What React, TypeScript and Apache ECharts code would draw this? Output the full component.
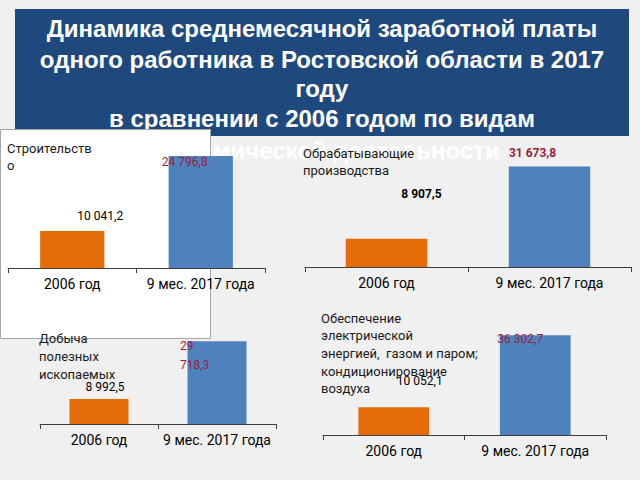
import React, { useEffect, useRef } from "react";
import * as echarts from "echarts";

const categories = ["2006 год", "9 мес. 2017 года"];
const construction = [10041.2, 24796.8];
const manufacturing = [8907.5, 31673.8];
const mining = [8992.5, 29718.3];
const energy = [10052.1, 36302.7];

const titleLines = [
  "Динамика среднемесячной заработной платы",
  "одного работника в Ростовской области в 2017",
  "году",
  "в сравнении с 2006 годом по видам",
  "экономической деятельности",
];
const panelTitles = [
  ["Строительств", "о"],
  ["Обрабатывающие", "производства"],
  ["Добыча", "полезных", "ископаемых"],
  ["Обеспечение", "электрической", "энергией,  газом и паром;", "кондиционирование", "воздуха"],
];

const ORANGE = "#e46c0a";
const BLUE = "#4f81bd";
const RED = "#9b1f3c";
const FONT = "Roboto";

const fmt = (v: number) => {
  const [i, d] = v.toFixed(1).split(".");
  return i.replace(/\B(?=(\d{3})+(?!\d))/g, " ") + "," + d;
};

export default function App() {
  const ref = useRef<HTMLDivElement>(null);
  useEffect(() => {
    if (!ref.current) return;
    const chart = echarts.init(ref.current, null, { renderer: "svg" });

    const grids = [
      { left: 8, right: 375, top: 150, bottom: 212 },
      { left: 305, right: 9, top: 156, bottom: 213 },
      { left: 40, right: 364, top: 332, bottom: 56 },
      { left: 323, right: 34, top: 325, bottom: 45 },
    ];
    const yRanges = [
      { min: 2760, max: 26000 },
      { min: 0, max: 35000 },
      { min: 0, max: 33000 },
      { min: 0, max: 40000 },
    ];
    const datasets = [construction, manufacturing, mining, energy];
    type L = { offset: number[]; color: string; bold?: boolean; align?: string; lineHeight?: number; text?: (v: number) => string };
    const labels: L[][] = [
      [
        { offset: [28, -3], color: "#000" },
        { offset: [-16, 18], color: RED },
      ],
      [
        { offset: [35, -33], color: "#000", bold: true },
        { offset: [-17, -2], color: RED, bold: true },
      ],
      [
        { offset: [6, 0], color: "#000" },
        {
          offset: [-37, 38],
          color: RED,
          align: "left",
          lineHeight: 19,
          text: (v: number) => {
            const s = fmt(v);
            const parts = s.split(" ");
            return parts[0] + "\n" + parts.slice(1).join(" ");
          },
        },
      ],
      [
        { offset: [26, -14], color: "#000" },
        { offset: [-15, 16], color: RED },
      ],
    ];

    const graphic: any[] = [
      {
        type: "rect",
        z: 0,
        shape: { x: 15, y: 9, width: 614, height: 127 },
        style: { fill: "#1f497d" },
      },
    ];
    const titleY = [28, 59, 88, 118, 150];
    titleLines.forEach((t, i) => {
      graphic.push({
        type: "text",
        z: 0,
        z2: 10,
        x: 322,
        y: titleY[i],
        style: {
          text: t,
          fill: "#ffffff",
          font: "bold 24px 'Liberation Sans', Arial, sans-serif",
          textAlign: "center",
          textVerticalAlign: "middle",
        },
      });
    });
    graphic.push({
      type: "rect",
      z: 1,
      shape: { x: 0.5, y: 129.5, width: 210, height: 209 },
      style: { fill: "#ffffff", stroke: "#a6a6a6", lineWidth: 1 },
    });
    const panelPos = [
      { x: 7, y: 148, lh: 17 },
      { x: 303, y: 153, lh: 17 },
      { x: 39, y: 338, lh: 18 },
      { x: 321, y: 318, lh: 17.7 },
    ];
    panelTitles.forEach((lines, p) => {
      lines.forEach((t, i) => {
        graphic.push({
          type: "text",
          z: 5,
          x: panelPos[p].x,
          y: panelPos[p].y + i * panelPos[p].lh,
          style: {
            text: t,
            fill: "#1a1a1a",
            font: `13px ${FONT}`,
            textAlign: "left",
            textVerticalAlign: "middle",
          },
        });
      });
    });

    const option: any = {
      animation: false,
      backgroundColor: "#f0f0f0",
      grid: grids.map((g) => ({ ...g, containLabel: false })),
      xAxis: grids.map((_, i) => ({
        type: "category",
        gridIndex: i,
        data: categories,
        z: 3,
        axisLine: { lineStyle: { color: "#404040", width: 1 } },
        axisTick: { show: true, length: 5, lineStyle: { color: "#404040" } },
        axisLabel: { interval: 0, fontSize: 14, color: "#000", fontFamily: FONT, margin: 9 },
        splitLine: { show: false },
      })),
      yAxis: grids.map((_, i) => ({
        type: "value",
        gridIndex: i,
        min: yRanges[i].min,
        max: yRanges[i].max,
        show: false,
        splitLine: { show: false },
      })),
      series: datasets.map((vals, i) => ({
        type: "bar",
        xAxisIndex: i,
        yAxisIndex: i,
        barWidth: "50%",
        clip: true,
        z: 2,
        data: vals.map((v, j) => {
          const l = labels[i][j];
          return {
            value: v,
            itemStyle: { color: j === 0 ? ORANGE : BLUE },
            label: {
              show: true,
              position: "top",
              offset: l.offset,
              color: l.color,
              fontSize: 12,
              fontFamily: FONT,
              fontWeight: l.bold ? "bold" : "normal",
              align: l.align || "center",
              lineHeight: l.lineHeight || 14,
              formatter: () => (l.text ? l.text(v) : fmt(v)),
            },
          };
        }),
      })),
      graphic,
    };
    chart.setOption(option);
    return () => chart.dispose();
  }, []);
  return (
    <div
      ref={ref}
      style={{ position: "fixed", left: 0, top: 0, width: 640, height: 480 }}
    />
  );
}
